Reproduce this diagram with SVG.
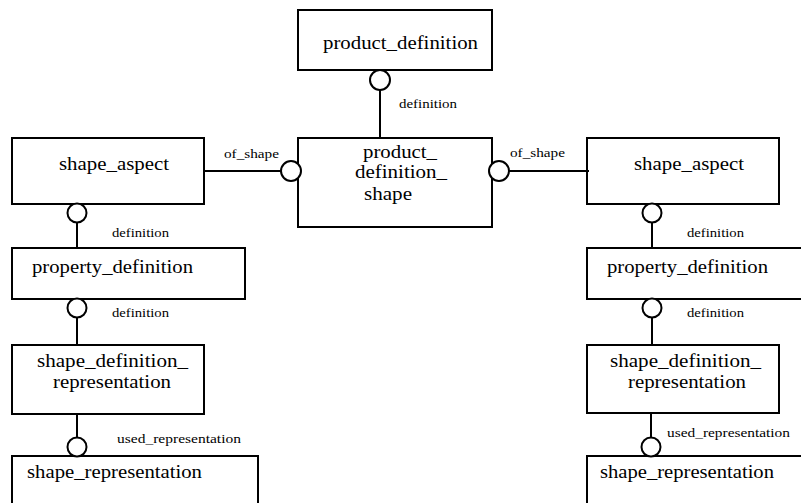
<svg xmlns="http://www.w3.org/2000/svg" width="801" height="503" viewBox="0 0 801 503">
  <style>
    .box { fill: #ffffff; stroke: #000000; stroke-width: 2; }
    .line { fill: none; stroke: #000000; stroke-width: 2; }
    .ring { fill: #ffffff; stroke: #000000; stroke-width: 2; }
    .name { font-family: "Liberation Serif", "Times New Roman", serif; font-size: 19px; fill: #000000; }
    .role { font-family: "Liberation Serif", "Times New Roman", serif; font-size: 13px; fill: #000000; }
  </style>
  <rect x="0" y="0" width="801" height="503" fill="#ffffff"/>

  <!-- entity boxes -->
  <g id="product_definition">
    <rect class="box" x="298" y="10" width="194" height="60"/>
    <text class="name" x="323" y="49" textLength="155" lengthAdjust="spacingAndGlyphs">product_definition</text>
  </g>
  <g id="product_definition_shape">
    <rect class="box" x="298" y="138" width="194" height="89"/>
    <text class="name" x="363" y="158" textLength="74" lengthAdjust="spacingAndGlyphs">product_</text>
    <text class="name" x="355" y="178" textLength="92" lengthAdjust="spacingAndGlyphs">definition_</text>
    <text class="name" x="364" y="200" textLength="48" lengthAdjust="spacingAndGlyphs">shape</text>
  </g>
  <g id="shape_aspect_left">
    <rect class="box" x="12" y="138" width="192" height="66"/>
    <text class="name" x="59" y="170" textLength="110" lengthAdjust="spacingAndGlyphs">shape_aspect</text>
  </g>
  <g id="shape_aspect_right">
    <rect class="box" x="587" y="138" width="192" height="66"/>
    <text class="name" x="634" y="170" textLength="110" lengthAdjust="spacingAndGlyphs">shape_aspect</text>
  </g>
  <g id="property_definition_left">
    <rect class="box" x="12" y="248" width="233" height="51"/>
    <text class="name" x="32" y="273" textLength="161" lengthAdjust="spacingAndGlyphs">property_definition</text>
  </g>
  <g id="property_definition_right">
    <rect class="box" x="587" y="248" width="233" height="51"/>
    <text class="name" x="607" y="273" textLength="161" lengthAdjust="spacingAndGlyphs">property_definition</text>
  </g>
  <g id="shape_definition_representation_left">
    <rect class="box" x="12" y="345" width="192" height="69"/>
    <text class="name" x="37" y="367" textLength="151" lengthAdjust="spacingAndGlyphs">shape_definition_</text>
    <text class="name" x="53" y="388" textLength="118" lengthAdjust="spacingAndGlyphs">representation</text>
  </g>
  <g id="shape_definition_representation_right">
    <rect class="box" x="587" y="345" width="192" height="68"/>
    <text class="name" x="610" y="367" textLength="151" lengthAdjust="spacingAndGlyphs">shape_definition_</text>
    <text class="name" x="628" y="388" textLength="118" lengthAdjust="spacingAndGlyphs">representation</text>
  </g>
  <g id="shape_representation_left">
    <rect class="box" x="12" y="456" width="246" height="60"/>
    <text class="name" x="27" y="478" textLength="175" lengthAdjust="spacingAndGlyphs">shape_representation</text>
  </g>
  <g id="shape_representation_right">
    <rect class="box" x="587" y="456" width="246" height="60"/>
    <text class="name" x="600" y="478" textLength="174" lengthAdjust="spacingAndGlyphs">shape_representation</text>
  </g>

  <!-- relationships: line plus open circle at the referencing end -->
  <g id="connectors">
    <line class="line" x1="380" y1="90" x2="380" y2="138"/>
    <circle class="ring" cx="380" cy="80" r="10"/>
    <text class="role" x="399" y="108" textLength="58" lengthAdjust="spacingAndGlyphs">definition</text>

    <line class="line" x1="204" y1="171" x2="281" y2="171"/>
    <circle class="ring" cx="291" cy="171" r="10"/>
    <text class="role" x="224" y="158" textLength="55" lengthAdjust="spacingAndGlyphs">of_shape</text>

    <line class="line" x1="509" y1="171" x2="589" y2="171"/>
    <circle class="ring" cx="499" cy="171" r="10"/>
    <text class="role" x="510" y="157" textLength="55" lengthAdjust="spacingAndGlyphs">of_shape</text>

    <line class="line" x1="77" y1="223" x2="77" y2="248"/>
    <circle class="ring" cx="77" cy="213" r="9.5"/>
    <text class="role" x="112" y="237" textLength="57" lengthAdjust="spacingAndGlyphs">definition</text>

    <line class="line" x1="652" y1="223" x2="652" y2="248"/>
    <circle class="ring" cx="652" cy="213" r="9.5"/>
    <text class="role" x="687" y="237" textLength="57" lengthAdjust="spacingAndGlyphs">definition</text>

    <line class="line" x1="77" y1="317" x2="77" y2="346"/>
    <circle class="ring" cx="77" cy="308" r="9.5"/>
    <text class="role" x="112" y="317" textLength="57" lengthAdjust="spacingAndGlyphs">definition</text>

    <line class="line" x1="652" y1="317" x2="652" y2="346"/>
    <circle class="ring" cx="652" cy="308" r="9.5"/>
    <text class="role" x="687" y="317" textLength="57" lengthAdjust="spacingAndGlyphs">definition</text>

    <line class="line" x1="77" y1="414" x2="77" y2="438"/>
    <circle class="ring" cx="77" cy="447" r="9.5"/>
    <text class="role" x="117" y="443" textLength="124" lengthAdjust="spacingAndGlyphs">used_representation</text>

    <line class="line" x1="651" y1="413" x2="651" y2="438"/>
    <circle class="ring" cx="651" cy="447" r="9.5"/>
    <text class="role" x="667" y="437" textLength="123" lengthAdjust="spacingAndGlyphs">used_representation</text>
  </g>
</svg>
